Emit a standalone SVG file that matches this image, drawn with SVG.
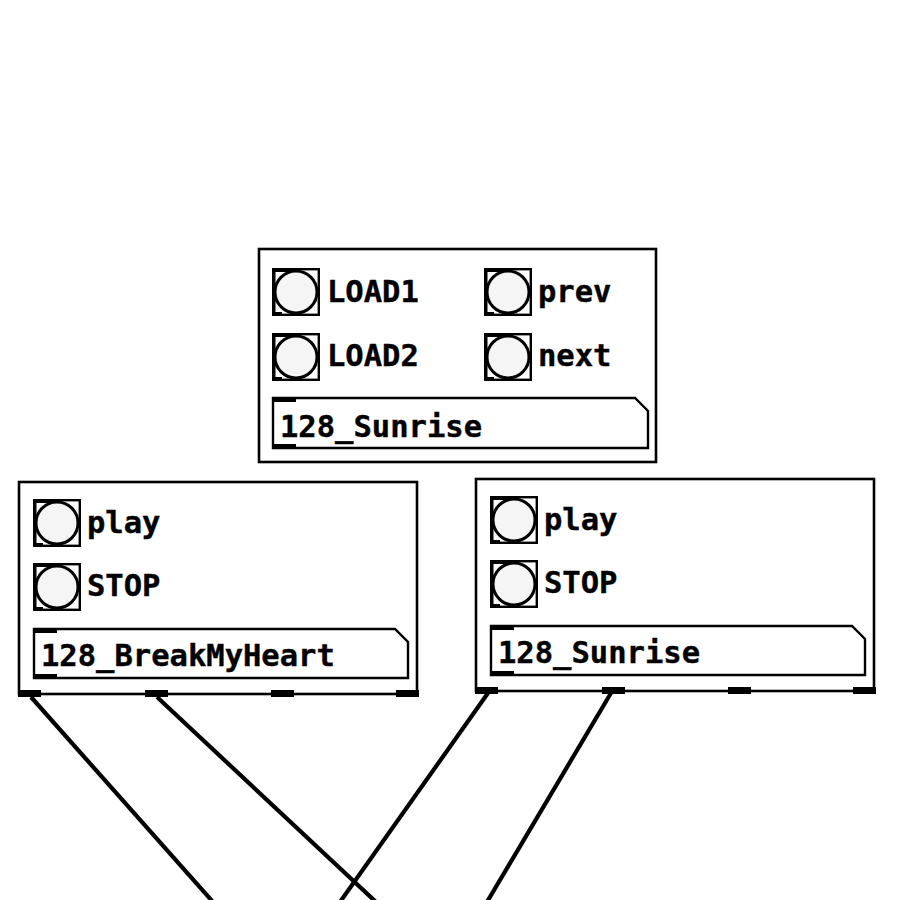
<svg xmlns="http://www.w3.org/2000/svg" xmlns:xlink="http://www.w3.org/1999/xlink" width="900" height="900" viewBox="0 0 900 900">
<style>
.box{fill:#fff;stroke:#000;stroke-width:2.6}
.sym{fill:#fff;stroke:#000;stroke-width:2.4}
.io{fill:#000}
.lbl{font-family:"DejaVu Sans Mono","Liberation Mono",monospace;font-weight:bold;font-size:30.5px;fill:#000;stroke:#000;stroke-width:0.4}
.wire{stroke:#000;stroke-width:4.2;fill:none}
</style>
<defs>
<g id="bng">
<rect x="1.2" y="1.2" width="45.6" height="45.6" fill="#fff" stroke="#000" stroke-width="2.4"/>
<rect x="0" y="0" width="24" height="4" fill="#000"/>
<rect x="0" y="44" width="10" height="4" fill="#000"/>
<rect x="0" y="0" width="3.5" height="48" fill="#000"/>
<circle cx="24" cy="24" r="21" fill="#f5f5f5" stroke="#000" stroke-width="3"/>
</g>
</defs>
<rect width="900" height="900" fill="#fff"/>
<g id="connectors">
<line class="wire" x1="31" y1="697" x2="213" y2="902"/>
<line class="wire" x1="157" y1="697" x2="376" y2="902"/>
<line class="wire" x1="488" y1="693" x2="340" y2="902"/>
<line class="wire" x1="611" y1="693" x2="487" y2="902"/>
</g>
<g id="top-box">
<rect class="box" x="259" y="249" width="397" height="213"/>
<use xlink:href="#bng" x="272" y="268"/>
<text class="lbl" x="327" y="302">LOAD1</text>
<use xlink:href="#bng" x="272" y="333"/>
<text class="lbl" x="327" y="366">LOAD2</text>
<use xlink:href="#bng" x="484" y="268"/>
<text class="lbl" x="538" y="302">prev</text>
<use xlink:href="#bng" x="484" y="333"/>
<text class="lbl" x="538" y="366">next</text>
<polygon class="sym" points="273,398 635,398 648,411 648,448 273,448"/>
<rect class="io" x="272" y="397" width="24" height="5"/>
<rect class="io" x="272" y="444" width="24" height="5"/>
<text class="lbl" x="280" y="437">128_Sunrise</text>
</g>
<g id="left-box">
<rect class="box" x="19" y="482" width="398" height="212"/>
<use xlink:href="#bng" x="33" y="499"/>
<text class="lbl" x="87" y="533">play</text>
<use xlink:href="#bng" x="33" y="563"/>
<text class="lbl" x="87" y="596">STOP</text>
<polygon class="sym" points="34,629 395,629 408,642 408,678 34,678"/>
<rect class="io" x="33" y="628" width="24" height="5"/>
<rect class="io" x="33" y="674" width="24" height="5"/>
<text class="lbl" x="41" y="666">128_BreakMyHeart</text>
<rect class="io" x="18" y="690" width="23" height="7"/>
<rect class="io" x="145" y="690" width="23" height="7"/>
<rect class="io" x="271" y="690" width="23" height="7"/>
<rect class="io" x="396" y="690" width="23" height="7"/>
</g>
<g id="right-box">
<rect class="box" x="476" y="479" width="398" height="212"/>
<use xlink:href="#bng" x="490" y="496"/>
<text class="lbl" x="544" y="530">play</text>
<use xlink:href="#bng" x="490" y="560"/>
<text class="lbl" x="544" y="593">STOP</text>
<polygon class="sym" points="491,626 852,626 865,639 865,675 491,675"/>
<rect class="io" x="490" y="625" width="24" height="5"/>
<rect class="io" x="490" y="671" width="24" height="5"/>
<text class="lbl" x="498" y="663">128_Sunrise</text>
<rect class="io" x="475" y="687" width="23" height="7"/>
<rect class="io" x="602" y="687" width="23" height="7"/>
<rect class="io" x="728" y="687" width="23" height="7"/>
<rect class="io" x="853" y="687" width="23" height="7"/>
</g>
</svg>
